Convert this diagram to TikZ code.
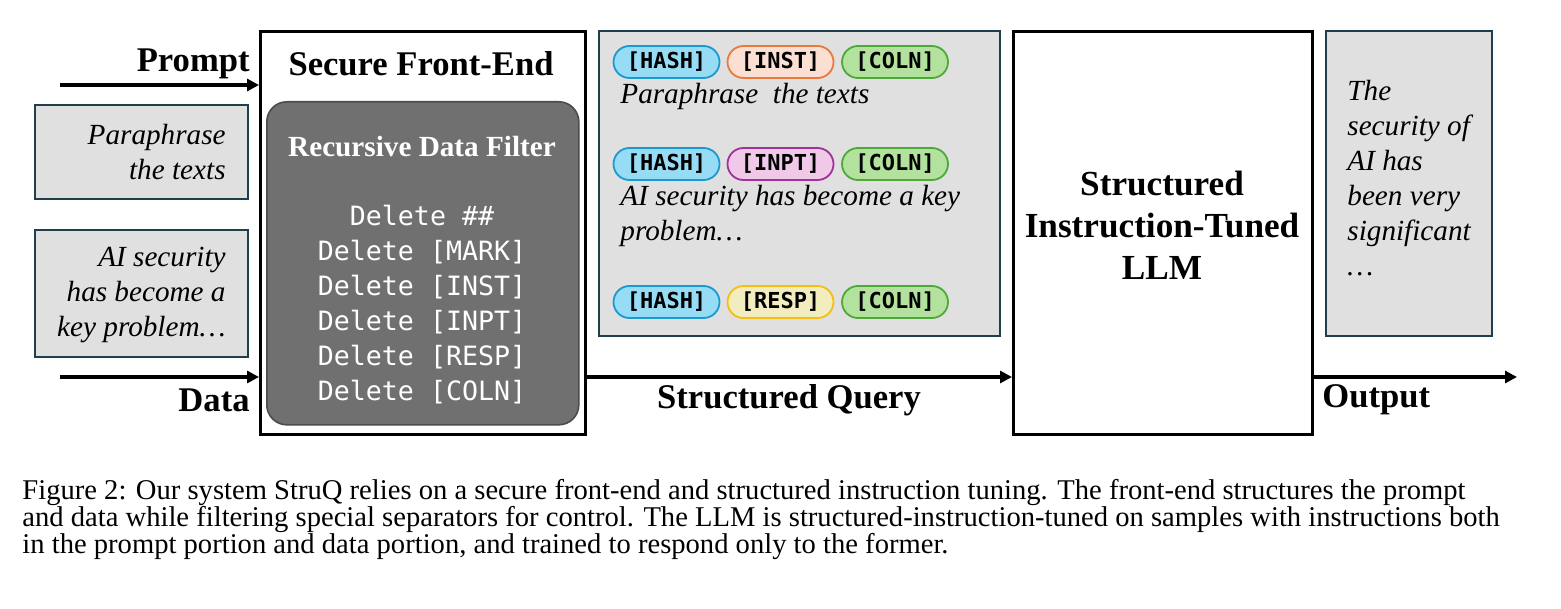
\documentclass[tikz,border=0pt]{standalone}
\usepackage{fontspec}
\setmainfont{Liberation Serif}
\setmonofont{DejaVu Sans Mono}
\usetikzlibrary{arrows.meta}
\definecolor{gbg}{HTML}{E0E0E0}
\definecolor{gbd}{HTML}{1F3F4F}
\definecolor{dk}{HTML}{707070}
\definecolor{hashF}{HTML}{96DCF4}\definecolor{hashD}{HTML}{1A9AD0}
\definecolor{instF}{HTML}{FBDFD2}\definecolor{instD}{HTML}{E87A3C}
\definecolor{colnF}{HTML}{B2E29E}\definecolor{colnD}{HTML}{4FA83A}
\definecolor{inptF}{HTML}{F0C8E8}\definecolor{inptD}{HTML}{A0309A}
\definecolor{respF}{HTML}{F2EDBE}\definecolor{respD}{HTML}{F5BE10}
\begin{document}
\begin{tikzpicture}[x=0.5pt,y=-0.5pt,
  graybox/.style={draw=gbd,line width=1pt,fill=gbg},
  bigbox/.style={draw=black,line width=1.6pt},
  arr/.style={line width=1.6pt,-{Triangle[length=6pt,width=6pt]}},
  lab/.style={font=\fontsize{17.3}{19}\selectfont\bfseries,inner sep=0},
  itx/.style={font=\fontsize{14.6}{17.5}\selectfont\itshape,inner sep=0},
  tag/.style={rounded corners=8pt,line width=0.9pt,minimum width=53pt,minimum height=16pt,inner sep=0,font=\fontsize{11}{12}\selectfont\ttfamily\bfseries}]
\useasboundingbox (0,0) rectangle (1561,609);
% left
\coordinate (p0) at (60,85); \coordinate (d0) at (60,377);
\node[graybox,minimum width=106.5pt,minimum height=47pt,anchor=north west] (b1) at (34,104) {};
\node[itx,align=right,anchor=east] (t1) at (226,152) {Paraphrase\\the texts};
\node[graybox,minimum width=106.5pt,minimum height=63.5pt,anchor=north west] (b2) at (34,229) {};
\node[itx,align=right,anchor=east] (t2) at (226,295) {AI security\\has become a\\key problem\dots};
% front end
\node[bigbox,minimum width=162.5pt,minimum height=201.5pt,anchor=north west] (fe) at (259,30) {};
\node[lab,anchor=east] (pl) at (250,64) {Prompt};
\node[lab,anchor=east] (dl) at (250,400) {Data};
\draw[arr] (p0) -- (p0-|fe.west);
\draw[arr] (d0) -- (d0-|fe.west);
\node[lab] (sfe) at (421,64) {Secure Front-End};
\node[draw=black!70,fill=dk,rounded corners=10pt,line width=0.8pt,minimum width=156pt,minimum height=161.5pt,anchor=north west] (rdf) at (266,101) {};
\node[lab,white,font=\fontsize{14.6}{16}\selectfont\bfseries] (rdft) at (422,147) {Recursive Data Filter};
\node[white,font=\fontsize{13.3}{17.5}\selectfont\ttfamily,align=center,inner sep=0] (del) at (422,305)
 {Delete \#\#\\Delete [MARK]\\Delete [INST]\\Delete [INPT]\\Delete [RESP]\\Delete [COLN]};
% query box
\node[graybox,minimum width=200.5pt,minimum height=152.5pt,anchor=north west] (qb) at (598,30) {};
\node[tag,draw=hashD,fill=hashF] (h1) at (666.5,62) {[HASH]};
\node[tag,draw=instD,fill=instF] (i1) at (780.5,62) {[INST]};
\node[tag,draw=colnD,fill=colnF] (c1) at (895,62) {[COLN]};
\node[itx,anchor=west] (q1) at (620,96) {Paraphrase\ \ the texts};
\node[tag,draw=hashD,fill=hashF] (h2) at (666.5,164) {[HASH]};
\node[tag,draw=inptD,fill=inptF] (i2) at (780.5,164) {[INPT]};
\node[tag,draw=colnD,fill=colnF] (c2) at (895,164) {[COLN]};
\node[itx,anchor=north west,align=left] (q2) at (620,185) {AI security has become a key\\problem\dots};
\node[tag,draw=hashD,fill=hashF] (h3) at (666.5,302) {[HASH]};
\node[tag,draw=respD,fill=respF] (i3) at (780.5,302) {[RESP]};
\node[tag,draw=colnD,fill=colnF] (c3) at (895,302) {[COLN]};
% LLM
\node[bigbox,minimum width=149.5pt,minimum height=201.5pt,anchor=north west] (llm) at (1012,30) {};
\node[lab,align=center,font=\fontsize{17.6}{21}\selectfont\bfseries] (llmt) at (1162,225) {Structured\\Instruction-Tuned\\LLM};
\draw[line width=1.6pt,-{Triangle[length=6pt,width=6pt]}] (fe.east|-d0) -- (d0-|llm.west);
\node[lab] (sq) at (789,400) {Structured Query};
% output
\node[graybox,minimum width=83pt,minimum height=152.5pt,anchor=north west] (ob) at (1325,30) {};
\node[itx,anchor=north west,align=left] (ot) at (1347,80) {The\\security of\\AI has\\been very\\significant\\\dots};
\coordinate (oe) at (1517,377);
\draw[arr] (llm.east|-d0) -- (oe);
\node[lab,anchor=west] (ol) at (1322,400) {Output};
% caption
\node[anchor=north west,align=left,inner sep=0,font=\fontsize{14.3}{13.5}\selectfont] (cap) at (22,479)
{Figure 2: Our system StruQ relies on a secure front-end and structured instruction tuning. The front-end structures the prompt\\
and data while filtering special separators for control. The LLM is structured-instruction-tuned on samples with instructions both\\
in the prompt portion and data portion, and trained to respond only to the former.};
\end{tikzpicture}
\end{document}
